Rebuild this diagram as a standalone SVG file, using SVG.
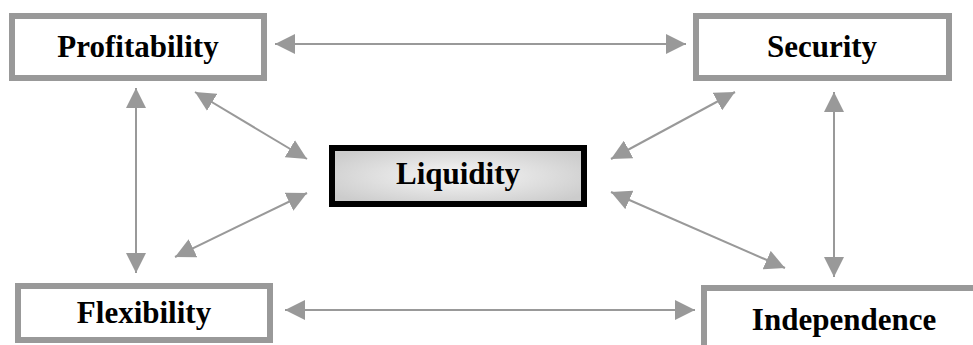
<svg xmlns="http://www.w3.org/2000/svg" width="973" height="345" viewBox="0 0 973 345">
  <style>
    .box { fill: #ffffff; stroke: #999999; stroke-width: 6; }
    .core { fill: url(#coreFill); stroke: #000000; stroke-width: 6; }
    .label { font-family: "Liberation Serif", "Times New Roman", serif; font-weight: bold; font-size: 31px; fill: #000000; text-anchor: middle; }
    .link { stroke: #999999; stroke-width: 2; fill: none; marker-start: url(#head); marker-end: url(#head); }
  </style>
  <defs>
    <radialGradient id="coreFill" cx="0.5" cy="0.5" r="0.6">
      <stop offset="0" stop-color="#f7f7f7"/>
      <stop offset="1" stop-color="#cccccc"/>
    </radialGradient>
    <marker id="head" viewBox="0 0 20 20" refX="20" refY="10" markerWidth="20" markerHeight="20" markerUnits="userSpaceOnUse" orient="auto-start-reverse">
      <path d="M0,0 L20,10 L0,20 z" fill="#999999"/>
    </marker>
  </defs>

  <g id="connectors">
    <line class="link" x1="275" y1="44" x2="686" y2="44"/>
    <line class="link" x1="136" y1="88" x2="136" y2="273"/>
    <line class="link" x1="834" y1="92" x2="834" y2="277"/>
    <line class="link" x1="285" y1="310" x2="695" y2="310"/>
    <line class="link" x1="195" y1="92" x2="307" y2="159"/>
    <line class="link" x1="175" y1="257" x2="307" y2="193"/>
    <line class="link" x1="611" y1="159" x2="735" y2="92"/>
    <line class="link" x1="611" y1="192" x2="785" y2="268"/>
  </g>

  <g id="profitability">
    <rect class="box" x="12" y="16" width="252" height="62"/>
    <text class="label" x="138" y="57">Profitability</text>
  </g>

  <g id="security">
    <rect class="box" x="696" y="16" width="253" height="62"/>
    <text class="label" x="822" y="57">Security</text>
  </g>

  <g id="liquidity">
    <rect class="core" x="332" y="148" width="252" height="56"/>
    <text class="label" x="458" y="184">Liquidity</text>
  </g>

  <g id="flexibility">
    <rect class="box" x="18" y="286" width="252" height="54"/>
    <text class="label" x="144" y="323">Flexibility</text>
  </g>

  <g id="independence">
    <rect class="box" x="704" y="288" width="300" height="100"/>
    <text class="label" x="844" y="330">Independence</text>
  </g>
</svg>
